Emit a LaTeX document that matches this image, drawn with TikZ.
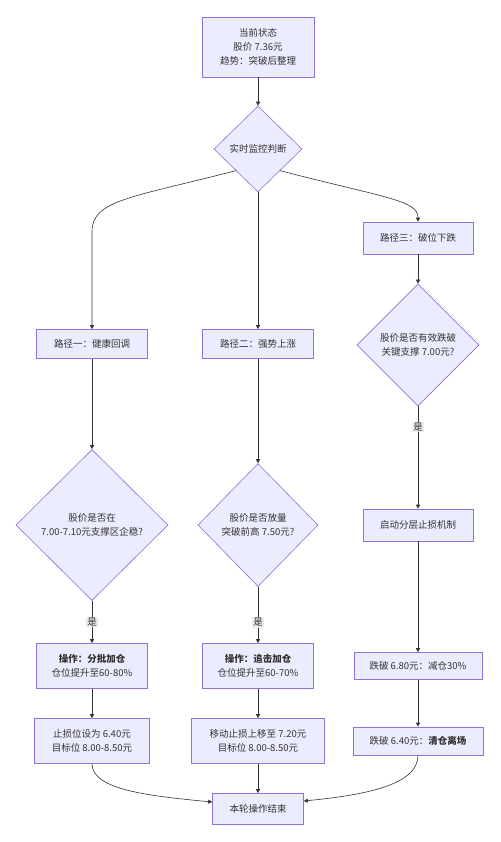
\documentclass[tikz,border=0pt]{standalone}
\usepackage{fontspec}
\setmainfont{Noto Sans CJK SC}
\usetikzlibrary{shapes.geometric,arrows.meta}
\definecolor{boxfill}{HTML}{ECECFF}
\definecolor{boxdraw}{HTML}{9370DB}
\definecolor{ink}{HTML}{333333}
\definecolor{lblbg}{HTML}{E8E8E8}
\tikzset{
  box/.style={draw=boxdraw, fill=boxfill, line width=0.6pt, inner sep=0pt, align=center, text=ink, font=\fontsize{9.5}{14}\selectfont},
  dia/.style={diamond, draw=boxdraw, fill=boxfill, line width=0.6pt, inner sep=0pt, align=center, text=ink, font=\fontsize{9.5}{14}\selectfont},
  conn/.style={draw=ink, line width=0.6pt, -{Triangle[length=4pt,width=4pt]}},
  lbl/.style={fill=lblbg, fill opacity=0.85, text opacity=1, text=ink, inner sep=1pt, font=\fontsize{9.5}{11}\selectfont}
}
\begin{document}
\begin{tikzpicture}[x=1pt,y=-1pt]
\useasboundingbox (0,0) rectangle (500,842);
\fill[white] (0,0) rectangle (500,842);
% nodes
\node[box, minimum width=112pt, minimum height=60pt] (start) at (258,47) {当前状态\\股价 7.36元\\趋势：突破后整理};
\node[dia, minimum width=88pt, minimum height=86pt] (dec) at (258,149) {实时监控判断};
\node[box, minimum width=111pt, minimum height=29pt] (p1) at (92,344) {路径一：健康回调};
\node[box, minimum width=111pt, minimum height=29pt] (p2) at (258,344) {路径二：强势上涨};
\node[box, minimum width=110pt, minimum height=32pt] (p3) at (418,238) {路径三：破位下跌};
\node[dia, minimum width=152pt, minimum height=151pt] (d1) at (92,525) {股价是否在\\7.00-7.10元支撑区企稳?};
\node[dia, minimum width=120pt, minimum height=123pt] (d2) at (258,525) {股价是否放量\\突破前高 7.50元?};
\node[dia, minimum width=122pt, minimum height=122pt] (d3) at (418,345) {股价是否有效跌破\\关键支撑 7.00元?};
\node[box, minimum width=110pt, minimum height=32pt] (brk) at (418,525) {启动分层止损机制};
\node[box, minimum width=111pt, minimum height=45pt] (opL) at (92,666) {\textbf{操作：分批加仓}\\仓位提升至60-80\%};
\node[box, minimum width=115pt, minimum height=45pt] (stL) at (92,741) {止损位设为 6.40元\\目标位 8.00-8.50元};
\node[box, minimum width=111pt, minimum height=45pt] (opM) at (258,666) {\textbf{操作：追击加仓}\\仓位提升至60-70\%};
\node[box, minimum width=133pt, minimum height=45pt] (stM) at (258,741) {移动止损上移至 7.20元\\目标位 8.00-8.50元};
\node[box, minimum width=128pt, minimum height=27pt] (r1) at (418,666) {跌破 6.80元：减仓30\%};
\node[box, minimum width=130pt, minimum height=28pt] (r2) at (418,741) {跌破 6.40元：\textbf{清仓离场}};
\node[box, minimum width=91pt, minimum height=31pt] (fin) at (258,809) {本轮操作结束};
% connectors
\draw[conn] (start) -- (dec);
\draw[conn] (dec.south west) .. controls (130,198) and (92,200) .. (92,232) -- (p1.north);
\draw[conn] (dec) -- (p2);
\draw[conn] (dec.south east) .. controls (385,198) and (418,200) .. (p3.north);
\draw[conn] (p1) -- (d1);
\draw[conn] (p2) -- (d2);
\draw[conn] (p3) -- (d3);
\draw[conn] (d1) -- node[lbl]{是} (opL);
\draw[conn] (d2) -- node[lbl,pos=0.63]{是} (opM);
\draw[conn] (d3) -- node[lbl,pos=0.2]{是} (brk);
\draw[conn] (opL) -- (stL);
\draw[conn] (opM) -- (stM);
\draw[conn] (brk) -- (r1);
\draw[conn] (r1) -- (r2);
\draw[conn] (stL.south) .. controls (92,790) and (150,796) .. ([yshift=7pt]fin.west);
\draw[conn] (stM) -- (fin);
\draw[conn] (r2.south) .. controls (418,785) and (365,795) .. ([yshift=8pt]fin.east);
\end{tikzpicture}
\end{document}
